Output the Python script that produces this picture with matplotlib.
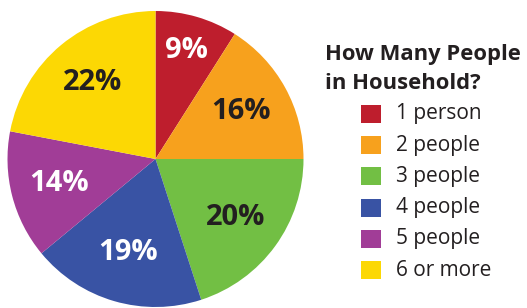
import matplotlib
matplotlib.use("Agg")
import matplotlib.pyplot as plt
from matplotlib.patches import Rectangle
import numpy as np

# household size shares, clockwise from 12 o'clock
categories = ["1 person", "2 people", "3 people", "4 people", "5 people", "6 or more"]
shares = [9, 16, 20, 19, 14, 22]
colors = ["#BE1E2D", "#F7A11D", "#72BF44", "#3953A4", "#A13D97", "#FCD804"]
label_colors = ["white", "#231F20", "#231F20", "white", "white", "#231F20"]
label_dist = [0.76, 0.66, 0.67, 0.66, 0.67, 0.67]
title = "How Many People\nin Household?"

plt.rcParams["font.family"] = ["Open Sans", "DejaVu Sans"]

W, H = 527, 308
fig = plt.figure(figsize=(W / 100, H / 100), dpi=100)

cx, cy, r = 155.5, 159, 148
ax = fig.add_axes([(cx - r) / W, (H - cy - r) / H, 2 * r / W, 2 * r / H])
wedges, _ = ax.pie(shares, colors=colors, startangle=90, counterclock=False,
                   radius=1, wedgeprops=dict(linewidth=0))
ax.set_xlim(-1, 1)
ax.set_ylim(-1, 1)
ax.set_aspect("equal")
ax.axis("off")

for w, s, c, d in zip(wedges, shares, label_colors, label_dist):
    ang = np.deg2rad((w.theta1 + w.theta2) / 2)
    ax.text(d * np.cos(ang), d * np.sin(ang), f"{s}%", color=c,
            fontsize=21, fontweight="bold", ha="center", va="center")

# legend
fig.text(325 / W, 1 - 69 / H, title, fontsize=15.8, fontweight="bold",
         color="#231F20", ha="left", va="center", linespacing=1.55)
for i, (lab, col) in enumerate(zip(categories, colors)):
    yc = 114 + i * 31.2
    fig.patches.append(Rectangle((361 / W, 1 - (yc + 9) / H), 20 / W, 18 / H,
                                 transform=fig.transFigure, facecolor=col,
                                 edgecolor="none"))
    fig.text(396 / W, 1 - yc / H, lab, fontsize=15, color="#231F20",
             ha="left", va="center")

fig.savefig("out.png", dpi=100)
